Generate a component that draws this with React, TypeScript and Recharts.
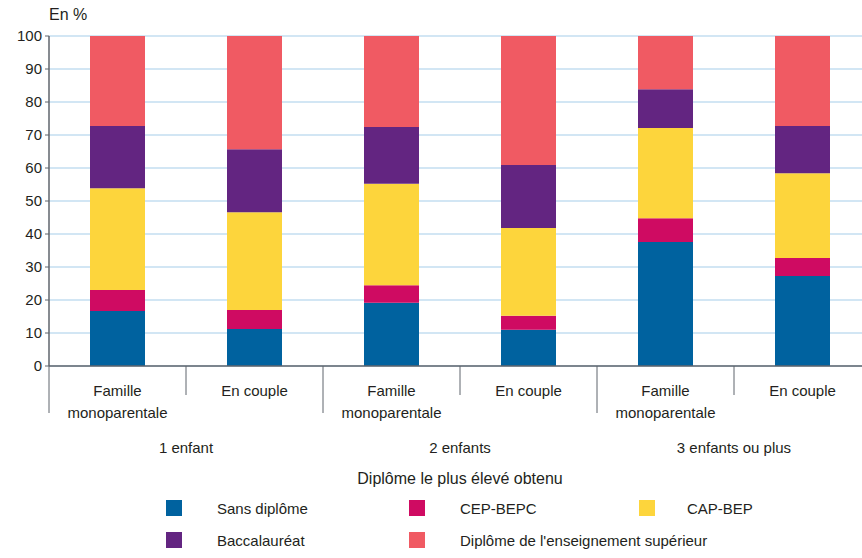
import React from "react"
import { BarChart, Bar, XAxis, YAxis, CartesianGrid } from "recharts"

const categories = [
  "Famille\nmonoparentale",
  "En couple",
  "Famille\nmonoparentale",
  "En couple",
  "Famille\nmonoparentale",
  "En couple",
]
const groups = ["1 enfant", "2 enfants", "3 enfants ou plus"]

const sansDiplome = [16.7, 11.2, 19.2, 11.0, 37.6, 27.3]
const cepBepc = [6.3, 5.8, 5.3, 4.2, 7.2, 5.4]
const capBep = [30.9, 29.6, 30.7, 26.6, 27.3, 25.7]
const bac = [18.8, 19.1, 17.2, 19.1, 11.8, 14.3]
const superieur = [27.3, 34.3, 27.6, 39.1, 16.1, 27.3]

const yTicks = [0, 10, 20, 30, 40, 50, 60, 70, 80, 90, 100]

const series = [
  { key: "sans", name: "Sans diplôme", color: "#00629f" },
  { key: "cep", name: "CEP-BEPC", color: "#cf0b62" },
  { key: "cap", name: "CAP-BEP", color: "#fdd53c" },
  { key: "bac", name: "Baccalauréat", color: "#632581" },
  { key: "sup", name: "Diplôme de l'enseignement supérieur", color: "#f05a63" },
]

const data = categories.map((name, i) => ({
  name,
  group: groups[Math.floor(i / 2)],
  sans: sansDiplome[i],
  cep: cepBepc[i],
  cap: capBep[i],
  bac: bac[i],
  sup: superieur[i],
}))

const FONT = "'Liberation Sans', Arial, sans-serif"
const TEXT = "#231f20"
const AXIS = "#5f656c"

const CHART_W = 880
const MARGIN_R = 9
const Y_W = 49
const BAND = (CHART_W - MARGIN_R - Y_W) / data.length

function CategoryTick(props: any) {
  const { x, y, payload, index } = props
  const lines = String(payload.value).split("\n")
  const left = x - BAND / 2
  const groupStart = index % 2 === 0
  return (
    <g>
      <line
        x1={left}
        x2={left}
        y1={y}
        y2={y + (groupStart ? 47 : 29)}
        stroke={AXIS}
        strokeWidth={1}
      />
      {lines.map((l, i) => (
        <text
          key={i}
          x={x}
          y={y + 30 + i * 22}
          textAnchor="middle"
          fill={TEXT}
          fontSize={15}
          fontFamily={FONT}
        >
          {l}
        </text>
      ))}
      {groupStart && (
        <text
          x={x + BAND / 2}
          y={y + 87}
          textAnchor="middle"
          fill={TEXT}
          fontSize={15}
          fontFamily={FONT}
        >
          {data[index].group}
        </text>
      )}
    </g>
  )
}

const legendPos = [
  { sx: 166, tx: 217, y: 500 },
  { sx: 409, tx: 460, y: 500 },
  { sx: 639, tx: 687, y: 500 },
  { sx: 166, tx: 217, y: 532 },
  { sx: 409, tx: 460, y: 532 },
]

export default function App() {
  return (
    <div
      style={{
        position: "absolute",
        left: 0,
        top: 0,
        width: 862,
        height: 558,
        overflow: "hidden",
        background: "#fff",
        fontFamily: FONT,
        color: TEXT,
      }}
    >
      <div style={{ position: "absolute", left: 49, top: 6, fontSize: 16 }}>En %</div>
      <BarChart
        width={CHART_W}
        height={558}
        data={data}
        margin={{ top: 36, right: MARGIN_R, left: 0, bottom: 92 }}
        barSize={55}
      >
        <CartesianGrid vertical={false} stroke="#c3def0" strokeWidth={1.5} />
        <XAxis
          dataKey="name"
          height={100}
          interval={0}
          tickLine={false}
          tickSize={0}
          tickMargin={0}
          axisLine={{ stroke: AXIS, strokeWidth: 1.5 }}
          tick={<CategoryTick />}
        />
        <YAxis
          width={Y_W}
          domain={[0, 100]}
          ticks={yTicks}
          interval={0}
          tickSize={4}
          tickMargin={3}
          axisLine={{ stroke: AXIS, strokeWidth: 1.5 }}
          tickLine={{ stroke: AXIS }}
          tick={{ fill: TEXT, fontSize: 15, fontFamily: FONT }}
        />
        {series.map((s) => (
          <Bar
            key={s.key}
            dataKey={s.key}
            name={s.name}
            stackId="a"
            fill={s.color}
            isAnimationActive={false}
          />
        ))}
      </BarChart>
      <div
        style={{
          position: "absolute",
          left: 0,
          width: 920,
          top: 470,
          textAlign: "center",
          fontSize: 16,
        }}
      >
        Diplôme le plus élevé obtenu
      </div>
      {series.map((s, i) => (
        <React.Fragment key={s.key}>
          <div
            style={{
              position: "absolute",
              left: legendPos[i].sx,
              top: legendPos[i].y,
              width: 16,
              height: 16,
              background: s.color,
            }}
          />
          <div
            style={{
              position: "absolute",
              left: legendPos[i].tx,
              top: legendPos[i].y,
              fontSize: 15,
              lineHeight: "18px",
              whiteSpace: "nowrap",
            }}
          >
            {s.name}
          </div>
        </React.Fragment>
      ))}
    </div>
  )
}
